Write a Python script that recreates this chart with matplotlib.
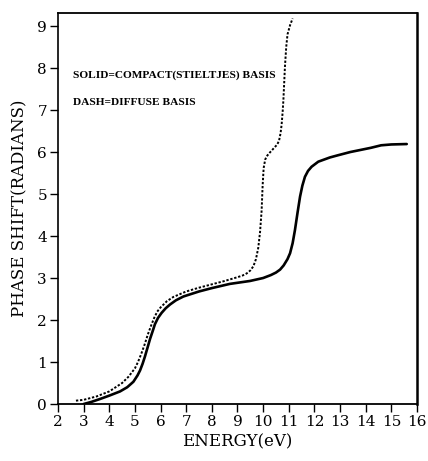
import matplotlib
matplotlib.use("Agg")
import matplotlib.pyplot as plt

# phase shift curves (energy in eV, phase in radians)
solid_e = [3.0, 3.3, 3.64, 4.0, 4.42, 4.7, 4.94, 5.1, 5.2, 5.3, 5.39, 5.5,
           5.59, 5.7, 5.78, 5.9, 6.04, 6.2, 6.37, 6.6, 6.89, 7.5, 8.0, 8.7,
           9.49, 10.0, 10.3, 10.5, 10.66, 10.8, 10.95, 11.05, 11.15, 11.24,
           11.34, 11.44, 11.53, 11.63, 11.75, 11.89, 12.15, 12.6, 12.9,
           13.4, 13.8, 14.2, 14.6, 15.0, 15.6]
solid_phase = [0.0, 0.05, 0.12, 0.2, 0.3, 0.4, 0.53, 0.68, 0.8, 0.96, 1.13,
               1.36, 1.55, 1.75, 1.9, 2.05, 2.17, 2.28, 2.37, 2.47, 2.56,
               2.68, 2.76, 2.86, 2.93, 3.0, 3.07, 3.13, 3.2, 3.3, 3.45, 3.59,
               3.83, 4.14, 4.55, 4.94, 5.2, 5.41, 5.55, 5.65, 5.77, 5.87,
               5.92, 6.0, 6.05, 6.1, 6.16, 6.18, 6.19]

dash_e = [2.7, 3.0, 3.5, 4.0, 4.5, 4.75, 5.0, 5.12, 5.25, 5.38, 5.5, 5.62,
          5.75, 5.87, 6.0, 6.25, 6.5, 7.0, 7.5, 8.0, 8.5, 9.0, 9.2, 9.36,
          9.5, 9.62, 9.72, 9.81, 9.88, 9.94, 9.98, 10.02, 10.08, 10.14,
          10.25, 10.4, 10.55, 10.62, 10.68, 10.72, 10.76, 10.79, 10.85,
          10.9, 10.95, 11.05, 11.15]
dash_phase = [0.08, 0.1, 0.18, 0.3, 0.5, 0.65, 0.85, 1.0, 1.2, 1.42, 1.65,
              1.85, 2.05, 2.2, 2.3, 2.45, 2.55, 2.68, 2.77, 2.85, 2.93, 3.02,
              3.06, 3.11, 3.18, 3.28, 3.45, 3.72, 4.1, 4.6, 5.2, 5.62, 5.82,
              5.9, 5.98, 6.08, 6.18, 6.27, 6.45, 6.65, 6.95, 7.24, 8.03,
              8.5, 8.8, 9.02, 9.18]

x_ticks = list(range(2, 17))
y_ticks = list(range(0, 10))

serif = "DejaVu Serif"

fig = plt.figure(figsize=(4.28, 4.61), dpi=100)
ax = fig.add_axes([0.1355, 0.1236, 0.8388, 0.8482])

ax.plot(solid_e, solid_phase, color="black", linewidth=1.9,
        solid_capstyle="round", solid_joinstyle="round")
ax.plot(dash_e, dash_phase, color="black", linewidth=1.4,
        linestyle=(0, (1.2, 0.9)))

ax.set_xlim(2, 16)
ax.set_ylim(0, 9.31)
ax.set_xticks(x_ticks)
ax.set_yticks(y_ticks)
ax.tick_params(direction="out", length=6, width=1.0, pad=2,
               labelsize=11)
for lab in ax.get_xticklabels() + ax.get_yticklabels():
    lab.set_fontfamily(serif)

for side, lw in (("left", 1.2), ("bottom", 1.3), ("top", 1.3), ("right", 1.8)):
    ax.spines[side].set_linewidth(lw)

ax.set_xlabel("ENERGY(eV)", fontsize=12, family=serif, labelpad=3)
ax.set_ylabel("PHASE SHIFT(RADIANS)", fontsize=12, family=serif, labelpad=6)

note_font = dict(fontsize=8.2, fontweight="bold", family="Liberation Serif",
                 va="center", transform=ax.transAxes)
ax.text(0.042, 0.841, "SOLID=COMPACT(STIELTJES) BASIS", **note_font)
ax.text(0.042, 0.772, "DASH=DIFFUSE BASIS", **note_font)

fig.savefig("out.png", dpi=100)
